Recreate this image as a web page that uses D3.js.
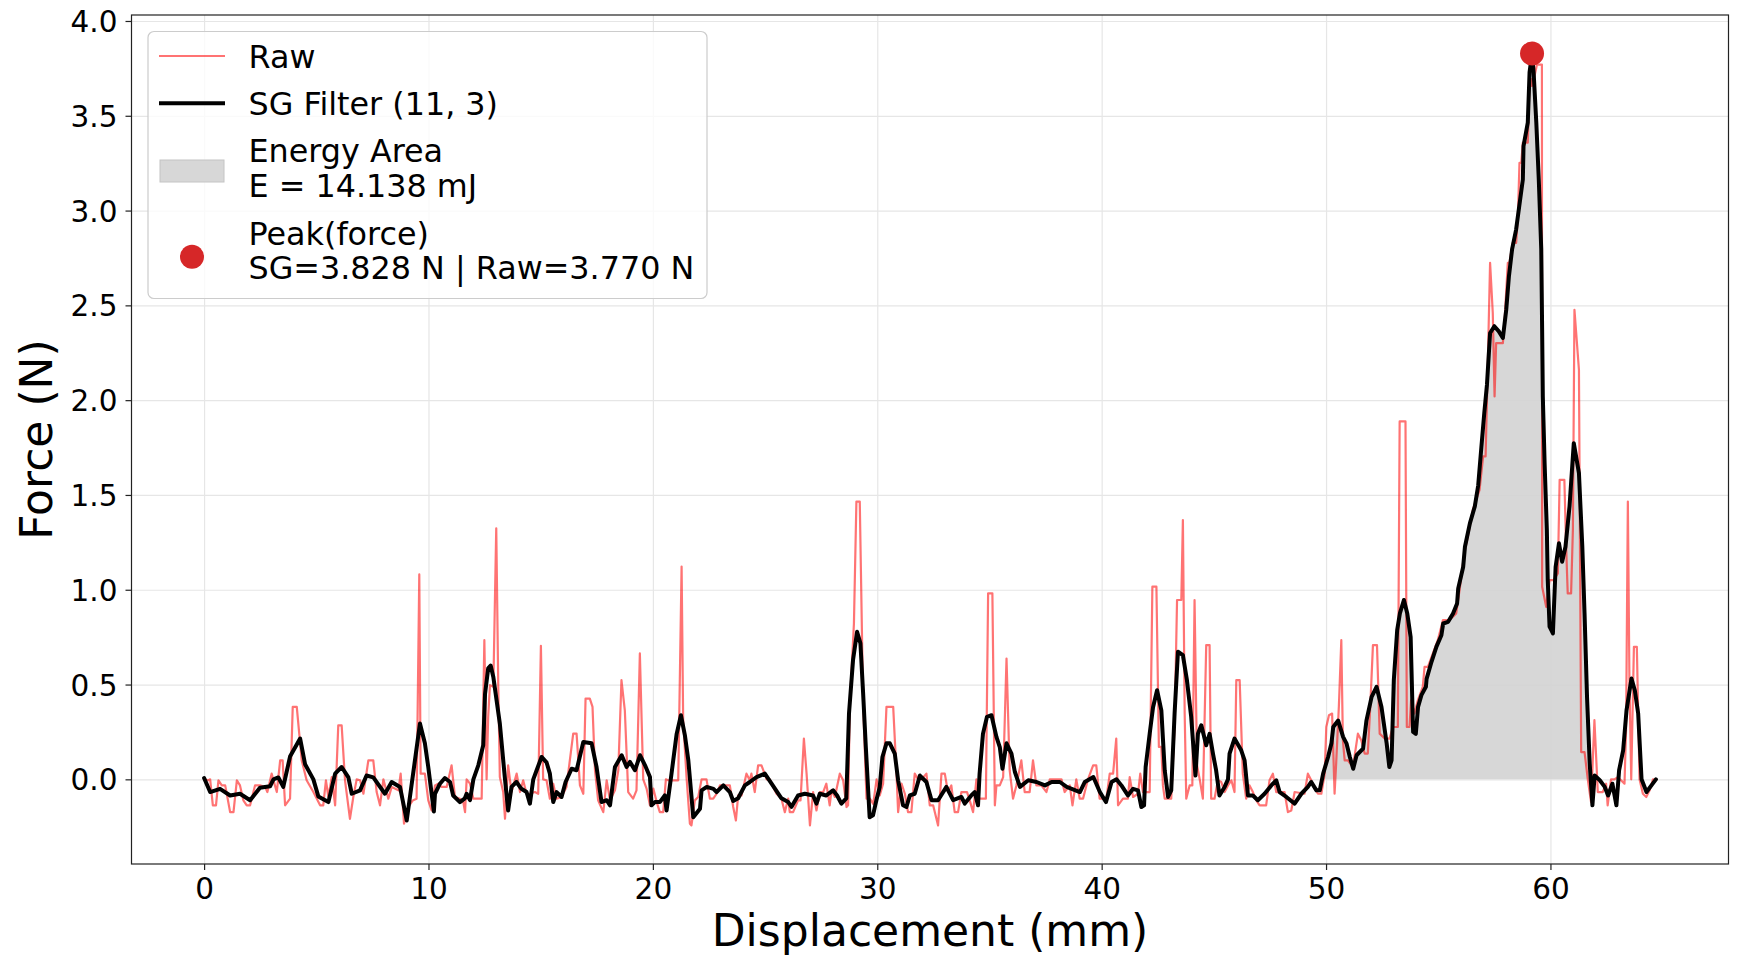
<!DOCTYPE html>
<html>
<head>
<meta charset="utf-8">
<script src="https://cdn.jsdelivr.net/npm/d3@7"></script>
<style>
  html, body { margin: 0; padding: 0; background: #ffffff; }
  svg { display: block; }
  text { font-family: "DejaVu Sans", sans-serif; fill: #000; }
</style>
</head>
<body>
<svg id="chart" width="1745" height="970"></svg>
<script>
// ---------------- DATA ----------------
const rawDisp = [
0.0,0.19,0.27,0.39,0.53,0.64,0.79,0.94,1.01,1.16,1.31,1.46,1.6,1.75,1.9,2.05,2.27,2.49,2.72,2.82,
3.01,3.24,3.39,3.5,3.61,3.83,3.95,4.13,4.35,4.57,4.87,5.17,5.31,5.43,5.54,5.69,5.84,5.98,6.13,6.28,
6.5,6.65,6.8,6.95,7.1,7.32,7.54,7.69,7.84,7.99,8.21,8.36,8.66,8.76,8.91,9.1,9.3,9.47,9.59,9.65,
9.84,9.99,10.14,10.29,10.44,10.59,10.81,11.03,11.18,11.4,11.55,11.63,11.7,11.85,12.0,12.37,12.49,12.59,12.66,12.74,
12.89,13.02,13.11,13.18,13.33,13.41,13.55,13.7,13.93,14.08,14.22,14.37,14.52,14.74,14.89,15.01,15.11,15.26,15.41,15.56,
15.71,15.93,16.15,16.45,16.6,16.75,16.9,17.0,17.19,17.31,17.42,17.56,17.79,17.94,18.09,18.31,18.46,18.6,18.75,18.9,
19.12,19.27,19.42,19.57,19.72,19.87,20.02,20.17,20.31,20.46,20.58,20.68,20.91,21.13,21.28,21.35,21.5,21.65,21.72,21.87,
22.02,22.17,22.39,22.54,22.69,22.84,22.99,23.43,23.58,23.7,23.8,23.95,24.17,24.32,24.39,24.54,24.69,24.84,25.07,25.21,
25.36,25.51,25.73,25.88,26.03,26.1,26.25,26.47,26.58,26.73,26.85,27.0,27.14,27.29,27.44,27.59,27.73,27.88,27.96,28.11,
28.33,28.48,28.63,28.7,28.78,28.96,29.07,29.22,29.37,29.52,29.67,29.82,29.97,30.11,30.26,30.41,30.71,30.85,30.93,31.08,
31.23,31.37,31.52,31.67,31.82,31.97,32.19,32.34,32.49,32.71,32.86,33.01,33.15,33.3,33.45,33.6,33.75,34.0,34.12,34.27,
34.42,34.49,34.84,34.94,35.13,35.24,35.31,35.46,35.61,35.76,35.9,36.05,36.2,36.42,36.57,36.79,36.94,37.09,37.31,37.54,
37.69,38.21,38.35,38.58,38.7,38.87,39.02,39.17,39.39,39.62,39.76,39.91,40.21,40.36,40.51,40.65,40.73,40.95,41.17,41.25,
41.4,41.62,41.72,41.84,42.14,42.26,42.44,42.55,42.66,42.73,42.81,43.1,43.25,43.36,43.55,43.62,43.7,43.77,43.92,44.04,
44.14,44.25,44.37,44.51,44.66,44.81,44.88,45.03,45.18,45.33,45.48,45.63,45.78,45.92,46.0,46.15,46.29,46.44,46.59,46.74,
46.89,47.04,47.33,47.48,47.63,47.78,48.15,48.3,48.45,48.6,49.04,49.19,49.34,49.49,49.64,49.79,49.94,50.01,50.13,50.27,
50.38,50.45,50.57,50.68,50.75,50.83,50.97,51.2,51.42,51.57,51.72,51.86,51.97,52.09,52.27,52.39,52.61,52.83,52.98,53.2,
53.28,53.54,53.6,53.72,53.79,53.94,54.09,54.31,54.39,54.54,54.76,54.98,55.21,55.5,55.8,55.95,56.17,56.32,56.54,56.84,
57.0,57.11,57.21,57.31,57.43,57.51,57.58,57.88,57.95,58.1,58.17,58.32,58.47,58.55,58.62,58.7,58.77,58.99,59.07,59.14,
59.18,59.29,59.4,59.62,59.63,59.81,59.96,60.14,60.33,60.41,60.62,60.7,60.77,60.92,61.0,61.07,61.27,61.37,61.52,61.67,
61.81,61.96,62.11,62.33,62.48,62.55,62.7,62.85,63.0,63.3,63.37,63.45,63.52,63.6,63.72,63.85,63.97,64.12,64.27,64.42,
64.57,64.7
];
const rawForce = [
0.0,-0.005,0.0,-0.137,-0.137,-0.005,-0.032,-0.032,-0.076,-0.173,-0.173,-0.005,-0.032,-0.111,-0.137,-0.137,-0.032,-0.032,-0.04,-0.067,
0.03,-0.067,0.1,0.1,-0.137,-0.102,0.382,0.382,0.1,-0.005,-0.067,-0.137,-0.137,-0.005,-0.093,0.012,-0.137,0.285,0.285,-0.005,
-0.208,-0.093,0.0,-0.005,-0.076,0.1,0.1,-0.067,-0.137,0.0,-0.102,-0.04,-0.058,0.03,-0.234,-0.146,-0.111,-0.102,1.081,0.03,
0.03,-0.111,-0.164,-0.032,-0.023,-0.04,-0.04,0.074,-0.093,-0.102,-0.12,-0.173,0.0,-0.023,-0.102,-0.102,0.734,0.0,0.329,0.497,
0.488,1.324,0.488,0.012,-0.067,-0.208,0.074,-0.067,0.03,-0.067,-0.005,-0.076,-0.076,-0.067,-0.076,0.704,0.0,-0.005,-0.102,-0.023,
-0.102,-0.093,-0.04,0.241,0.241,-0.032,-0.076,0.426,0.426,0.382,0.048,-0.111,-0.173,-0.005,-0.111,-0.058,0.048,0.523,0.364,-0.067,
-0.102,-0.058,0.664,0.0,-0.049,-0.137,-0.049,-0.12,-0.173,-0.173,0.0,-0.005,-0.005,-0.005,1.122,0.312,0.012,-0.234,-0.243,-0.111,
-0.093,0.0,0.0,-0.102,-0.102,-0.076,-0.032,-0.032,-0.146,-0.217,-0.085,-0.085,0.03,-0.005,0.03,-0.067,0.074,0.074,0.0,0.0,
-0.04,-0.076,-0.102,-0.173,-0.102,-0.173,-0.173,-0.111,-0.111,0.215,0.03,-0.243,-0.067,-0.164,-0.067,-0.067,-0.023,-0.137,-0.058,-0.093,
0.03,-0.005,-0.146,-0.137,0.4,0.822,1.465,1.465,0.4,-0.102,-0.102,-0.129,0.0,-0.085,-0.023,0.382,0.382,0.048,-0.173,-0.023,
-0.076,-0.173,-0.173,0.03,0.0,0.0,0.03,-0.137,-0.137,-0.243,0.03,0.03,-0.067,-0.032,-0.173,-0.173,-0.067,-0.067,-0.111,-0.173,
0.0,-0.102,-0.102,0.981,0.981,-0.137,-0.032,-0.032,0.012,0.637,0.048,-0.102,-0.032,0.1,-0.067,-0.067,0.1,-0.032,-0.032,-0.067,
0.0,0.0,-0.067,-0.032,-0.137,0.0,-0.102,-0.102,0.0,0.074,0.074,-0.102,-0.102,0.03,0.03,0.215,-0.137,-0.102,-0.102,0.012,
-0.093,-0.076,0.03,-0.067,-0.067,1.016,1.016,0.171,0.171,-0.032,-0.102,-0.102,0.276,0.946,0.946,1.368,0.347,-0.102,-0.032,-0.032,
0.946,0.074,0.0,-0.102,0.708,0.708,-0.102,-0.102,-0.005,-0.014,-0.067,-0.032,-0.005,-0.067,0.523,0.523,0.03,-0.102,-0.032,-0.067,
-0.111,-0.137,-0.137,-0.005,0.03,-0.067,-0.067,-0.173,-0.164,-0.067,-0.076,0.03,-0.005,-0.049,-0.076,-0.076,0.03,0.276,0.338,0.347,
-0.076,0.083,0.382,0.734,0.206,0.1,0.1,0.065,0.241,0.206,0.136,0.136,0.382,0.708,0.708,0.241,0.215,0.215,0.276,0.276,
1.888,1.888,0.276,0.276,0.417,0.347,0.417,0.488,0.593,0.593,0.664,0.734,0.84,0.84,0.875,0.998,1.2,1.28,1.421,1.527,
1.703,1.703,2.196,2.724,2.46,2.02,2.301,2.301,2.407,2.724,2.724,2.83,2.83,2.97,3.252,3.252,3.358,3.358,3.693,3.693,
3.657,3.71,3.77,3.77,1.016,0.91,1.051,1.051,1.086,1.58,1.58,1.227,0.981,0.981,1.315,2.477,2.16,0.144,0.144,-0.005,
-0.12,0.312,-0.067,-0.067,-0.023,-0.137,0.0,0.0,0.012,-0.023,0.259,1.465,0.523,0.0,0.699,0.699,0.0,-0.076,-0.093,-0.058,
0.0,0.0
];

const sgDisp = [
0.0,0.27,0.71,1.16,1.6,2.05,2.49,2.94,3.09,3.31,3.53,3.83,4.28,4.5,4.87,5.09,5.54,5.84,6.13,6.43,
6.58,6.95,7.24,7.54,8.06,8.36,8.73,9.03,9.62,9.84,9.99,10.24,10.29,10.51,10.73,10.96,11.1,11.4,11.62,11.7,
11.85,12.0,12.22,12.44,12.52,12.66,12.77,12.89,13.18,13.4,13.55,13.7,13.92,14.14,14.37,14.52,14.67,14.82,15.04,15.26,
15.41,15.56,15.71,15.93,16.11,16.38,16.6,16.9,17.27,17.49,17.71,17.94,18.09,18.31,18.61,18.83,18.98,19.2,19.43,19.65,
19.87,19.94,20.09,20.31,20.53,20.61,20.83,21.06,21.25,21.43,21.58,21.8,22.1,22.17,22.4,22.7,22.84,23.14,23.43,23.58,
23.8,24.1,24.32,24.62,24.99,25.29,25.73,26.03,26.18,26.47,26.77,27.14,27.29,27.44,27.73,28.03,28.21,28.4,28.62,28.74,
28.92,29.1,29.25,29.37,29.49,29.66,29.81,29.96,30.11,30.23,30.41,30.56,30.78,30.93,31.15,31.3,31.45,31.67,31.9,32.19,
32.42,32.71,33.08,33.38,33.75,33.9,34.19,34.34,34.49,34.56,34.71,34.89,35.09,35.31,35.46,35.58,35.76,35.98,36.13,36.36,
36.73,37.1,37.47,37.77,38.14,38.44,39.03,39.25,39.63,39.92,40.19,40.44,40.66,40.88,41.17,41.4,41.62,41.77,41.89,41.96,
42.14,42.29,42.47,42.66,42.81,42.96,43.1,43.25,43.4,43.62,43.8,43.99,44.18,44.29,44.44,44.66,44.81,44.96,45.1,45.25,
45.48,45.63,45.7,45.92,46.22,46.37,46.52,46.74,46.96,47.26,47.56,47.78,47.93,48.23,48.6,48.9,49.19,49.34,49.57,49.72,
49.87,50.09,50.24,50.32,50.54,50.76,50.91,51.06,51.21,51.36,51.65,51.8,52.03,52.25,52.47,52.7,52.82,52.92,53.02,53.17,
53.29,53.47,53.62,53.77,53.88,54.0,54.1,54.25,54.45,54.48,54.7,54.92,55.14,55.22,55.44,55.66,55.84,55.89,56.11,56.19,
56.41,56.63,56.78,56.92,57.05,57.17,57.31,57.5,57.7,57.88,58.03,58.15,58.29,58.47,58.59,58.77,58.8,58.99,59.07,59.18,
59.25,59.37,59.48,59.59,59.63,59.66,59.74,59.84,59.88,59.96,60.11,60.23,60.38,60.52,60.67,60.85,61.04,61.27,61.42,61.52,
61.63,61.75,61.87,61.97,62.2,62.42,62.57,62.76,62.94,63.06,63.24,63.39,63.61,63.76,63.91,64.06,64.28,64.5,64.7
];
const sgForce = [
0.007,-0.067,-0.05,-0.085,-0.076,-0.11,-0.044,-0.037,0.0,0.01,-0.04,0.12,0.215,0.08,0.0,-0.09,-0.12,0.03,0.065,0.01,
-0.076,-0.058,0.02,0.01,-0.076,-0.014,-0.04,-0.217,0.294,0.19,0.065,-0.17,-0.076,-0.023,0.007,-0.014,-0.085,-0.12,-0.1,-0.076,
-0.11,0.0,0.074,0.18,0.45,0.585,0.6,0.54,0.294,0.012,-0.164,-0.04,-0.014,-0.05,-0.067,-0.128,0.0,0.048,0.118,0.09,
0.03,-0.12,-0.067,-0.093,-0.014,0.056,0.048,0.197,0.19,0.065,-0.12,-0.11,-0.137,0.065,0.127,0.065,0.092,0.048,0.127,0.074,
0.012,-0.137,-0.12,-0.12,-0.085,-0.164,0.03,0.24,0.338,0.23,0.1,-0.2,-0.155,-0.058,-0.04,-0.05,-0.067,-0.032,-0.067,-0.114,
-0.1,-0.032,-0.014,0.012,0.03,-0.023,-0.1,-0.12,-0.145,-0.085,-0.076,-0.085,-0.128,-0.076,-0.085,-0.058,-0.085,-0.128,-0.1,0.347,
0.629,0.778,0.717,0.453,0.17,-0.2,-0.19,-0.11,-0.04,0.118,0.19,0.19,0.136,-0.005,-0.137,-0.146,-0.085,-0.076,0.02,-0.014,
-0.11,-0.11,-0.04,-0.11,-0.093,-0.128,-0.085,-0.067,-0.137,0.03,0.24,0.33,0.338,0.224,0.17,0.056,0.19,0.136,0.04,-0.04,
-0.005,-0.014,-0.032,-0.014,-0.014,-0.04,-0.067,-0.014,0.012,-0.067,-0.12,-0.014,0.0,-0.032,-0.085,-0.05,-0.058,-0.146,-0.137,0.065,
0.24,0.38,0.47,0.364,0.048,-0.093,-0.058,0.347,0.673,0.655,0.523,0.33,0.02,0.24,0.285,0.18,0.24,0.136,0.048,-0.085,
-0.04,0.0,0.136,0.215,0.153,0.1,-0.085,-0.085,-0.11,-0.076,-0.032,-0.005,-0.067,-0.093,-0.128,-0.076,-0.04,-0.014,-0.058,-0.058,
0.03,0.118,0.19,0.276,0.31,0.224,0.19,0.118,0.056,0.127,0.162,0.31,0.435,0.488,0.382,0.19,0.065,0.1,0.523,0.787,
0.875,0.946,0.875,0.75,0.25,0.24,0.382,0.444,0.488,0.53,0.62,0.7,0.76,0.822,0.831,0.875,0.928,1.007,1.12,1.227,
1.35,1.44,1.55,1.75,1.93,2.08,2.354,2.39,2.363,2.328,2.477,2.654,2.795,2.9,3.006,3.164,3.34,3.464,3.73,3.828,
3.73,3.464,3.164,2.795,2.37,2.02,1.667,1.315,1.05,0.805,0.77,1.12,1.245,1.148,1.227,1.44,1.773,1.615,1.227,0.875,
0.435,0.083,-0.137,0.02,-0.005,-0.04,-0.085,-0.023,-0.137,0.048,0.153,0.364,0.532,0.47,0.347,0.0,-0.067,-0.032,0.0
];

const xTicks = [0, 10, 20, 30, 40, 50, 60];
const yTicks = [0.0, 0.5, 1.0, 1.5, 2.0, 2.5, 3.0, 3.5, 4.0];
const peakDisp = 59.18;
const peakForce = 3.828;
const energyRange = [49.87, 61.75];
const legendLabels = [
  ["Raw"],
  ["SG Filter (11, 3)"],
  ["Energy Area", "E = 14.138 mJ"],
  ["Peak(force)", "SG=3.828 N | Raw=3.770 N"]
];
const xLabel = "Displacement (mm)";
const yLabel = "Force (N)";

// ---------------- LAYOUT ----------------
const plot = { left: 131.5, right: 1728.5, top: 15, bottom: 864 };
const svg = d3.select("#chart");

const rawPts = rawDisp.map((d, i) => [d, rawForce[i]]);
const sgPts = sgDisp.map((d, i) => [d, sgForce[i]]);

// matplotlib-like 5% margins
const xExt = d3.extent(rawDisp.concat(sgDisp));
const yExt = d3.extent(rawForce.concat(sgForce, [peakForce]));
const xPad = (xExt[1] - xExt[0]) * 0.05, yPad = (yExt[1] - yExt[0]) * 0.05;

const x = d3.scaleLinear().domain([xExt[0] - xPad, xExt[1] + xPad]).range([plot.left, plot.right]);
const y = d3.scaleLinear().domain([yExt[0] - yPad, yExt[1] + yPad]).range([plot.bottom, plot.top]);

const pw = plot.right - plot.left, ph = plot.bottom - plot.top;

// grid
const grid = svg.append("g");
grid.append("g").attr("transform", `translate(0,${plot.bottom})`)
  .call(d3.axisBottom(x).tickValues(xTicks).tickSize(-ph).tickFormat(""))
  .call(g => g.select(".domain").remove())
  .call(g => g.selectAll("line").attr("stroke", "#e6e6e6").attr("stroke-width", 1.2));
grid.append("g").attr("transform", `translate(${plot.left},0)`)
  .call(d3.axisLeft(y).tickValues(yTicks).tickSize(-pw).tickFormat(""))
  .call(g => g.select(".domain").remove())
  .call(g => g.selectAll("line").attr("stroke", "#e6e6e6").attr("stroke-width", 1.2));

// clip
svg.append("clipPath").attr("id", "clip").append("rect")
  .attr("x", plot.left).attr("y", plot.top).attr("width", pw).attr("height", ph);
const body = svg.append("g").attr("clip-path", "url(#clip)");

// energy area
const fillPts = sgPts.filter(p => p[0] >= energyRange[0] && p[0] <= energyRange[1]);
body.append("path").datum(fillPts)
  .attr("d", d3.area().x(p => x(p[0])).y0(y(0)).y1(p => y(p[1])))
  .attr("fill", "#d3d3d3").attr("fill-opacity", 0.9);

// raw line
body.append("path").datum(rawPts)
  .attr("d", d3.line().x(p => x(p[0])).y(p => y(p[1])))
  .attr("fill", "none").attr("stroke", "#ff0000").attr("stroke-opacity", 0.55)
  .attr("stroke-width", 2.2).attr("stroke-linejoin", "round");

// SG line
body.append("path").datum(sgPts)
  .attr("d", d3.line().x(p => x(p[0])).y(p => y(p[1])))
  .attr("fill", "none").attr("stroke", "#000").attr("stroke-width", 4)
  .attr("stroke-linejoin", "round").attr("stroke-linecap", "round");

// peak
svg.append("circle").attr("cx", x(peakDisp)).attr("cy", y(peakForce)).attr("r", 12)
  .attr("fill", "#d62728");

// axes
const tickFont = 29.5;
const xa = svg.append("g").attr("transform", `translate(0,${plot.bottom})`)
  .call(d3.axisBottom(x).tickValues(xTicks).tickSize(6).tickPadding(8).tickFormat(d3.format("d")));
const ya = svg.append("g").attr("transform", `translate(${plot.left},0)`)
  .call(d3.axisLeft(y).tickValues(yTicks).tickSize(6).tickPadding(8).tickFormat(d3.format(".1f")));
[xa, ya].forEach(a => {
  a.select(".domain").remove();
  a.selectAll("line").attr("stroke", "#222").attr("stroke-width", 1.2);
  a.selectAll("text").attr("font-size", tickFont).attr("font-family", "DejaVu Sans").attr("fill", "#000");
});
ya.selectAll("text").attr("dy", "0.36em");

// spines
svg.append("rect").attr("x", plot.left).attr("y", plot.top).attr("width", pw).attr("height", ph)
  .attr("fill", "none").attr("stroke", "#222").attr("stroke-width", 1.2);

// axis labels
svg.append("text").attr("x", (plot.left + plot.right) / 2).attr("y", 946)
  .attr("text-anchor", "middle").attr("font-size", 44).text(xLabel);
svg.append("text").attr("transform", `translate(52,${(plot.top + plot.bottom) / 2}) rotate(-90)`)
  .attr("text-anchor", "middle").attr("font-size", 44).text(yLabel);

// legend
const lg = svg.append("g");
lg.append("rect").attr("x", 148).attr("y", 31.5).attr("width", 559).attr("height", 267)
  .attr("rx", 6).attr("fill", "#fff").attr("fill-opacity", 0.8)
  .attr("stroke", "#cccccc").attr("stroke-width", 1.2);
const hx0 = 159, hx1 = 225, tx = 248.5, lf = 31.8;
lg.append("line").attr("x1", hx0).attr("x2", hx1).attr("y1", 56).attr("y2", 56)
  .attr("stroke", "#ff0000").attr("stroke-opacity", 0.55).attr("stroke-width", 2.2);
lg.append("line").attr("x1", hx0).attr("x2", hx1).attr("y1", 103.3).attr("y2", 103.3)
  .attr("stroke", "#000").attr("stroke-width", 4);
lg.append("rect").attr("x", 160).attr("y", 160).attr("width", 64).attr("height", 22)
  .attr("fill", "#d3d3d3").attr("fill-opacity", 0.9).attr("stroke", "#c4c4c4").attr("stroke-width", 1);
lg.append("circle").attr("cx", 192).attr("cy", 256.7).attr("r", 12).attr("fill", "#d62728");
const baselines = [[68.3], [115], [161.7, 196.7], [245, 279.3]];
legendLabels.forEach((lines, i) => {
  lines.forEach((t, j) => {
    lg.append("text").attr("x", tx).attr("y", baselines[i][j]).attr("font-size", lf).text(t);
  });
});
</script>
</body>
</html>
